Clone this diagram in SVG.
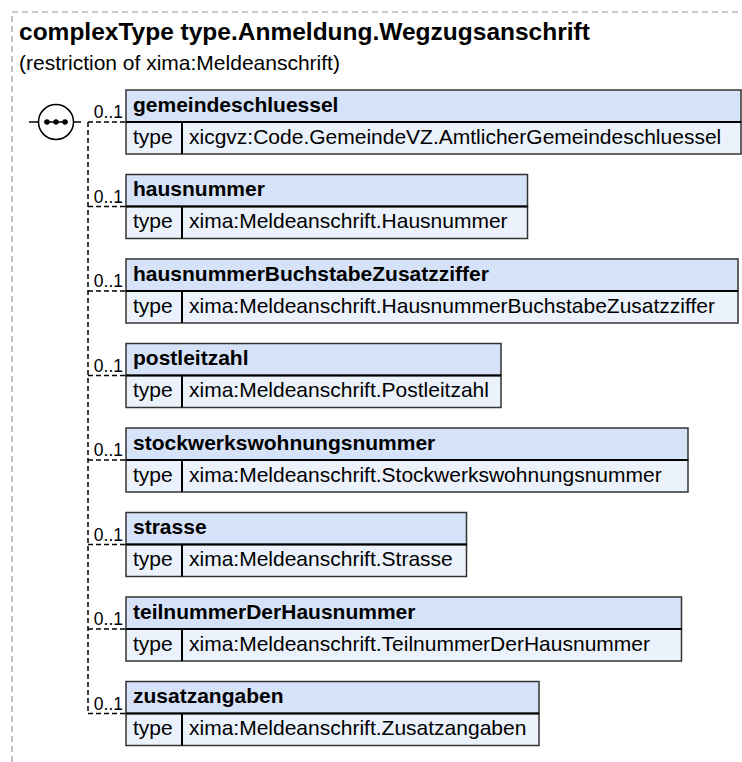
<svg xmlns="http://www.w3.org/2000/svg" width="742" height="762" viewBox="0 0 742 762">
<style>
text{font-family:"Liberation Sans",Arial,sans-serif;fill:#000}
.title{font-size:24.5px;font-weight:bold}
.sub{font-size:21px}
.name{font-size:21px;font-weight:bold}
.t{font-size:21px}
.card{font-size:17.5px;text-anchor:end}
.hdr{fill:#D6E2F7;stroke:#333;stroke-width:1.5}
.row{fill:#ECF2FC;stroke:#333;stroke-width:1.5}
.div{stroke:#000;stroke-width:2}
.conn{fill:none;stroke:#000;stroke-width:1.5;stroke-dasharray:5,3}
.frame{fill:none;stroke:#999;stroke-width:1.2;stroke-dasharray:6,4}
</style>
<defs>
<g id="compositor">
<line x1="29" y1="0" x2="38.5" y2="0" stroke="#000" stroke-width="1.5"/>
<line x1="73.5" y1="0" x2="81" y2="0" stroke="#000" stroke-width="1.5"/>
<circle cx="56" cy="0" r="17.5" fill="#fff" stroke="#000" stroke-width="1.5"/>
<line x1="44" y1="0" x2="68" y2="0" stroke="#000" stroke-width="1.5"/>
<circle cx="47" cy="0" r="2.7" fill="#000"/>
<circle cx="56" cy="0" r="2.7" fill="#000"/>
<circle cx="65" cy="0" r="2.7" fill="#000"/>
</g>
</defs>
<path class="frame" d="M12,762 V12 H742"/>
<text class="title" x="19" y="40">complexType type.Anmeldung.Wegzugsanschrift</text>
<text class="sub" x="19" y="70">(restriction of xima:Meldeanschrift)</text>

<g id="sequence">
<use href="#compositor" x="0" y="122"/>
</g>

<g id="connectors">
<path class="conn" d="M88,122 V713.5"/>
<path class="conn" d="M88,122 H126"/>
<path class="conn" d="M88,206.5 H126"/>
<path class="conn" d="M88,291 H126"/>
<path class="conn" d="M88,375.5 H126"/>
<path class="conn" d="M88,460 H126"/>
<path class="conn" d="M88,544.5 H126"/>
<path class="conn" d="M88,629 H126"/>
<path class="conn" d="M88,713.5 H126"/>
<text class="card" x="123" y="118">0..1</text>
<text class="card" x="123" y="202.5">0..1</text>
<text class="card" x="123" y="287">0..1</text>
<text class="card" x="123" y="371.5">0..1</text>
<text class="card" x="123" y="456">0..1</text>
<text class="card" x="123" y="540.5">0..1</text>
<text class="card" x="123" y="625">0..1</text>
<text class="card" x="123" y="709.5">0..1</text>
</g>

<g id="node-gemeindeschluessel" transform="translate(126,90)">
<rect class="hdr" x="0" y="0" width="615" height="32"/>
<rect class="row" x="0" y="32" width="615" height="32"/>
<line class="div" x1="0" y1="32" x2="615" y2="32"/>
<line class="div" x1="56" y1="32" x2="56" y2="64" stroke-width="1.5"/>
<text class="name" x="7" y="21.5">gemeindeschluessel</text>
<text class="t" x="7" y="53.5">type</text>
<text class="t" x="63" y="53.5">xicgvz:Code.GemeindeVZ.AmtlicherGemeindeschluessel</text>
</g>

<g id="node-hausnummer" transform="translate(126,174.5)">
<rect class="hdr" x="0" y="0" width="401.5" height="32"/>
<rect class="row" x="0" y="32" width="401.5" height="32"/>
<line class="div" x1="0" y1="32" x2="401.5" y2="32"/>
<line class="div" x1="56" y1="32" x2="56" y2="64" stroke-width="1.5"/>
<text class="name" x="7" y="21.5">hausnummer</text>
<text class="t" x="7" y="53.5">type</text>
<text class="t" x="63" y="53.5">xima:Meldeanschrift.Hausnummer</text>
</g>

<g id="node-hausnummerBuchstabeZusatzziffer" transform="translate(126,259)">
<rect class="hdr" x="0" y="0" width="612" height="32"/>
<rect class="row" x="0" y="32" width="612" height="32"/>
<line class="div" x1="0" y1="32" x2="612" y2="32"/>
<line class="div" x1="56" y1="32" x2="56" y2="64" stroke-width="1.5"/>
<text class="name" x="7" y="21.5">hausnummerBuchstabeZusatzziffer</text>
<text class="t" x="7" y="53.5">type</text>
<text class="t" x="63" y="53.5">xima:Meldeanschrift.HausnummerBuchstabeZusatzziffer</text>
</g>

<g id="node-postleitzahl" transform="translate(126,343.5)">
<rect class="hdr" x="0" y="0" width="375" height="32"/>
<rect class="row" x="0" y="32" width="375" height="32"/>
<line class="div" x1="0" y1="32" x2="375" y2="32"/>
<line class="div" x1="56" y1="32" x2="56" y2="64" stroke-width="1.5"/>
<text class="name" x="7" y="21.5">postleitzahl</text>
<text class="t" x="7" y="53.5">type</text>
<text class="t" x="63" y="53.5">xima:Meldeanschrift.Postleitzahl</text>
</g>

<g id="node-stockwerkswohnungsnummer" transform="translate(126,428)">
<rect class="hdr" x="0" y="0" width="562" height="32"/>
<rect class="row" x="0" y="32" width="562" height="32"/>
<line class="div" x1="0" y1="32" x2="562" y2="32"/>
<line class="div" x1="56" y1="32" x2="56" y2="64" stroke-width="1.5"/>
<text class="name" x="7" y="21.5">stockwerkswohnungsnummer</text>
<text class="t" x="7" y="53.5">type</text>
<text class="t" x="63" y="53.5">xima:Meldeanschrift.Stockwerkswohnungsnummer</text>
</g>

<g id="node-strasse" transform="translate(126,512.5)">
<rect class="hdr" x="0" y="0" width="340.5" height="32"/>
<rect class="row" x="0" y="32" width="340.5" height="32"/>
<line class="div" x1="0" y1="32" x2="340.5" y2="32"/>
<line class="div" x1="56" y1="32" x2="56" y2="64" stroke-width="1.5"/>
<text class="name" x="7" y="21.5">strasse</text>
<text class="t" x="7" y="53.5">type</text>
<text class="t" x="63" y="53.5">xima:Meldeanschrift.Strasse</text>
</g>

<g id="node-teilnummerDerHausnummer" transform="translate(126,597)">
<rect class="hdr" x="0" y="0" width="555.5" height="32"/>
<rect class="row" x="0" y="32" width="555.5" height="32"/>
<line class="div" x1="0" y1="32" x2="555.5" y2="32"/>
<line class="div" x1="56" y1="32" x2="56" y2="64" stroke-width="1.5"/>
<text class="name" x="7" y="21.5">teilnummerDerHausnummer</text>
<text class="t" x="7" y="53.5">type</text>
<text class="t" x="63" y="53.5">xima:Meldeanschrift.TeilnummerDerHausnummer</text>
</g>

<g id="node-zusatzangaben" transform="translate(126,681.5)">
<rect class="hdr" x="0" y="0" width="413" height="32"/>
<rect class="row" x="0" y="32" width="413" height="32"/>
<line class="div" x1="0" y1="32" x2="413" y2="32"/>
<line class="div" x1="56" y1="32" x2="56" y2="64" stroke-width="1.5"/>
<text class="name" x="7" y="21.5">zusatzangaben</text>
<text class="t" x="7" y="53.5">type</text>
<text class="t" x="63" y="53.5">xima:Meldeanschrift.Zusatzangaben</text>
</g>
</svg>
